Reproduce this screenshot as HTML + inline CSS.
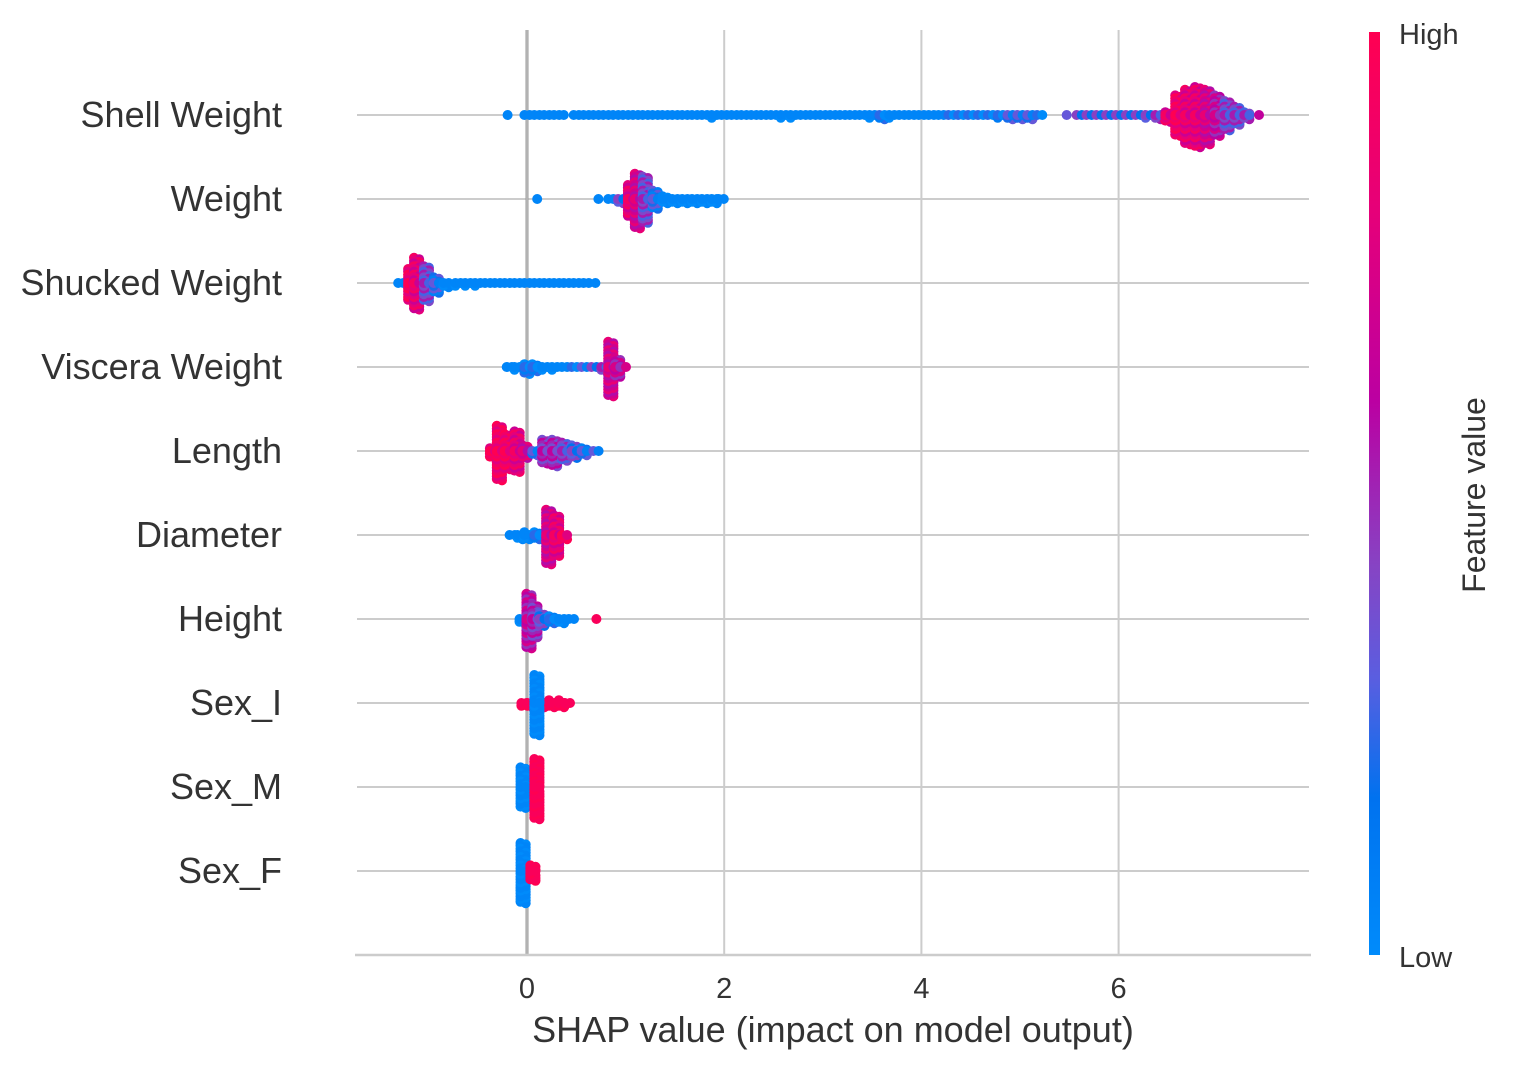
<!DOCTYPE html>
<html><head><meta charset="utf-8"><style>
html,body{margin:0;padding:0;background:#fff;}
svg{display:block;font-family:"Liberation Sans",Arial,sans-serif;}
</style></head><body>
<svg id="chart" width="1513" height="1071" viewBox="0 0 1513 1071" xmlns="http://www.w3.org/2000/svg">
<defs>
<linearGradient id="cbar" x1="0" y1="1" x2="0" y2="0">
<stop offset="0" stop-color="#008bfb"/><stop offset="0.17" stop-color="#0072ef"/>
<stop offset="0.3" stop-color="#5a5ee0"/><stop offset="0.42" stop-color="#8644c4"/>
<stop offset="0.6" stop-color="#bb00a2"/><stop offset="0.8" stop-color="#e5007a"/>
<stop offset="1" stop-color="#ff0052"/></linearGradient>
</defs>
<g id="grid"></g>
<g id="dots"></g>
<g id="labels"></g>
<g id="xaxis"></g>
<text x="833" y="1042" font-size="36" fill="#333" text-anchor="middle">SHAP value (impact on model output)</text>
<rect x="1369" y="32" width="11" height="923" fill="url(#cbar)"/>
<text x="1399" y="44" font-size="29" fill="#333">High</text>
<text x="1399" y="967" font-size="29" fill="#333">Low</text>
<text x="0" y="0" font-size="32" fill="#333" text-anchor="middle" transform="translate(1485,495) rotate(-90)">Feature value</text>
</svg>
<script>
const features = ["Shell Weight","Weight","Shucked Weight","Viscera Weight","Length","Diameter","Height","Sex_I","Sex_M","Sex_F"];
const xTicks = [0,2,4,6];
// per-feature beeswarm bins: SHAP value, point count, mean feature value (0-10)
const shellVals = [-0.17,0.0,0.1,0.2,0.3,0.4,0.5,0.6,0.7,0.8,0.9,1.0,1.1,1.2,1.3,1.4,1.5,1.6,1.7,1.8,1.9,2.0,2.1,2.2,2.3,2.4,2.5,2.6,2.7,2.8,2.9,3.0,3.1,3.2,3.3,3.4,3.5,3.6,3.7,3.8,3.9,4.0,4.1,4.2,4.3,4.4,4.5,4.6,4.7,4.8,4.9,5.0,5.1,5.2,5.5,5.6,5.7,5.8,5.9,6.0,6.1,6.2,6.3,6.4,6.5,6.6,6.7,6.8,6.9,7.0,7.1,7.2,7.3,7.45];
const shellCounts = [1,2,2,2,2,1,2,2,2,2,2,2,2,2,2,2,2,2,2,2,3,2,2,2,2,2,2,3,3,2,2,2,2,2,2,2,3,4,3,2,2,2,2,2,2,2,2,2,2,3,4,4,4,2,1,2,2,2,2,2,2,2,3,4,8,30,40,44,40,30,22,14,6,1];
const shellColors = [0,0,0,0,0,0,0,0,0,0,0,0,0,0,0,0,0,0,0,0,0,0,0,0,0,0,0,0,0,0,0,0,0,0,0,0,0,1,0,0,0,0,0,0,1,1,1,1,1,1,2,2,2,1,2,3,3,3,3,3,3,3,3,4,8,9,8,8,7,6,4,4,4,5];
const weightVals = [0.13,0.75,0.85,0.95,1.05,1.12,1.2,1.3,1.4,1.5,1.6,1.7,1.8,1.9,1.97];
const weightCounts = [1,1,2,4,24,40,34,14,6,4,4,4,4,4,2];
const weightColors = [0,0,0,3,8,7,4,2,0,0,0,0,0,0,0];
const shuckedVals = [-1.28,-1.18,-1.12,-1.02,-0.92,-0.82,-0.7,-0.6,-0.5,-0.4,-0.3,-0.2,-0.1,0.0,0.1,0.2,0.3,0.4,0.5,0.6,0.72];
const shuckedCounts = [2,24,38,26,12,4,3,3,3,2,2,2,2,2,2,2,2,2,2,2,1];
const shuckedColors = [0,9,8,4,2,0,0,0,0,0,0,0,0,0,0,0,0,0,0,0,0];
const visceraVals = [-0.18,-0.1,0.0,0.08,0.18,0.28,0.38,0.48,0.58,0.68,0.78,0.85,0.92,1.03];
const visceraCounts = [2,3,8,6,3,3,2,2,2,2,4,40,14,1];
const visceraColors = [0,0,1,1,0,0,0,1,2,3,4,7,6,6];
const lengthVals = [-0.35,-0.28,-0.2,-0.1,-0.02,0.08,0.18,0.28,0.38,0.48,0.58,0.7];
const lengthCounts = [8,40,26,30,10,4,18,20,14,10,6,2];
const lengthColors = [9,9,9,8,7,2,5,5,4,3,2,2];
const diameterVals = [-0.15,-0.07,0.0,0.1,0.22,0.3,0.38];
const diameterCounts = [2,4,5,6,40,30,4];
const diameterColors = [0,0,0,1,7,8,9];
const heightVals = [-0.05,0.02,0.08,0.15,0.25,0.35,0.45,0.73];
const heightCounts = [4,40,24,10,6,4,2,1];
const heightColors = [0,6,5,3,1,0,0,10];
const sexIVals = [-0.03,0.03,0.15,0.25,0.35,0.41,0.1];
const sexICounts = [3,4,5,5,5,3,44];
const sexIColors = [10,10,10,10,10,10,0];
const sexMVals = [-0.04,0.1];
const sexMCounts = [30,44];
const sexMColors = [0,10];
const sexFVals = [-0.04,0.06];
const sexFCounts = [44,12];
const sexFColors = [0,10];
const rowVals = [shellVals,weightVals,shuckedVals,visceraVals,lengthVals,diameterVals,heightVals,sexIVals,sexMVals,sexFVals];
const rowCounts = [shellCounts,weightCounts,shuckedCounts,visceraCounts,lengthCounts,diameterCounts,heightCounts,sexICounts,sexMCounts,sexFCounts];
const rowColors = [shellColors,weightColors,shuckedColors,visceraColors,lengthColors,diameterColors,heightColors,sexIColors,sexMColors,sexFColors];

const NS = "http://www.w3.org/2000/svg";
const xScale = v => 527 + v * 98.6;
const yRow = i => 115 + i * 84;
function mk(tag, attrs, parent){const e=document.createElementNS(NS,tag);for(const k in attrs)e.setAttribute(k,attrs[k]);parent.appendChild(e);return e;}
const stops=[[0,[0,139,251]],[0.17,[0,114,239]],[0.3,[90,94,224]],[0.42,[134,68,196]],[0.6,[187,0,162]],[0.8,[229,0,122]],[1,[255,0,82]]];
function cmap(t){t=Math.max(0,Math.min(1,t));for(let i=1;i<stops.length;i++){if(t<=stops[i][0]){const a=stops[i-1],b=stops[i];const f=(t-a[0])/(b[0]-a[0]);return "rgb("+a[1].map((c,j)=>Math.round(c+(b[1][j]-c)*f)).join(",")+")";}}return "rgb(255,0,82)";}

const grid=document.getElementById("grid");
features.forEach((f,i)=>{
  const l=mk("line",{x1:357,x2:1309,y1:yRow(i),y2:yRow(i),stroke:"#cccccc","stroke-width":2},grid);
  
  
});
xTicks.forEach(t=>{
  const l=mk("line",{x1:xScale(t),x2:xScale(t),y1:30,y2:955,stroke:t===0?"#999999":"#cccccc","stroke-width":t===0?3:2},grid);
  
  
});
const zl=mk("line",{x1:xScale(0),x2:xScale(0),y1:30,y2:955,stroke:"#bbbbbb","stroke-width":1.5},grid);



const xa=document.getElementById("xaxis");
const ax=mk("line",{x1:355,x2:1311,y1:955,y2:955,stroke:"#cccccc","stroke-width":2.5},xa);


xTicks.forEach(t=>{
  const tx=mk("text",{x:xScale(t),y:998,"font-size":29,fill:"#333","text-anchor":"middle"},xa);
  tx.textContent=String(t);
  
  
});

const lab=document.getElementById("labels");
features.forEach((f,i)=>{
  const t=mk("text",{x:282,y:yRow(i)+12,"font-size":36,fill:"#333","text-anchor":"end"},lab);
  t.textContent=f;
  
  
});

const dots=document.getElementById("dots");
const S=2.8;
rowVals.forEach((vals,i)=>{
  const g=mk("g",{},dots);
  
  
  const y0=yRow(i);
  vals.forEach((v,b)=>{
    const n=rowCounts[i][b], c=rowColors[i][b]/10;
    const pts=[];
    for(let k=0;k<n;k++){
      const sub=k%2, m=Math.floor(k/2);
      const j=Math.ceil(m/2)*(m%2===0?-1:1);
      const dy=j*S+(sub?S/2:0)*(j===0?0:1);
      const dx=(sub?2.6:-2.6);
      const dc=(k%3===0?0.13:(k%3===1?-0.13:0));
      pts.push([dx,dy,c+(c>0.05&&c<0.95?dc:(c>=0.95?-Math.abs(dc)*0.3:Math.abs(dc)*0.3))]);
    }
    pts.sort((a,b2)=>Math.abs(b2[1])-Math.abs(a[1]));
    pts.forEach(p=>{
      const d=mk("circle",{cx:(xScale(v)+p[0]).toFixed(1),cy:(y0+p[1]).toFixed(1),r:5,fill:cmap(p[2])},g);
      
      
    });
  });
});
</script>
</body></html>
